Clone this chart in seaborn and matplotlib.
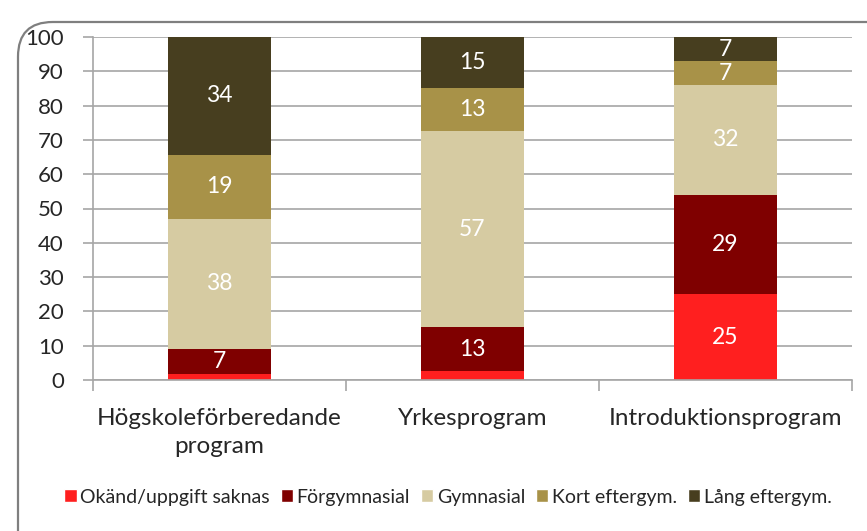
import numpy as np
import pandas as pd
import matplotlib.pyplot as plt
import seaborn as sns
from matplotlib.patches import FancyBboxPatch, Patch

# DATOS
program = ["Högskoleförberedande\nprogram", "Yrkesprogram", "Introduktionsprogram"]
nivaer = ["Okänd/uppgift saknas", "Förgymnasial", "Gymnasial", "Kort eftergym.", "Lång eftergym."]
okand = [1.7, 2.5, 25]
forgym = [7.3, 13, 29]
gymnasial = [38, 57, 32]
kort = [18.7, 12.6, 7]
lang = [34.3, 14.9, 7]
farger = ["#FF1F1F", "#7F0000", "#D6CBA2", "#A89248", "#473E1F"]

serier = [okand, forgym, gymnasial, kort, lang]

# tabla larga con sumas acumuladas (para apilar con seaborn)
filas = []
for i, p in enumerate(program):
    cum = 0
    for niv, s in zip(nivaer, serier):
        cum += s[i]
        filas.append({"program": p, "niva": niv, "varde": s[i], "kumulativ": cum})
df = pd.DataFrame(filas)

sns.set_style("white")
plt.rcParams["font.family"] = ["Lato", "DejaVu Sans"]

fig = plt.figure(figsize=(8.67, 5.31), dpi=100)
ax = fig.add_axes([93 / 867, 1 - 380 / 531, (852 - 93) / 867, (380 - 37) / 531])

paleta = dict(zip(nivaer, farger))
sns.barplot(data=df, x="program", y="kumulativ", hue="niva", hue_order=nivaer[::-1],
            palette=paleta, dodge=False, width=0.41, saturation=1, legend=False,
            linewidth=0, ax=ax, order=program)

# etiquetas dentro de las barras
for i, p in enumerate(program):
    sub = df[df["program"] == p]
    for _, r in sub.iterrows():
        if r["varde"] >= 5:
            ax.text(i, r["kumulativ"] - r["varde"] / 2, f"{r['varde']:.0f}",
                    ha="center", va="center", color="white", fontsize=16.5)

ax.set_ylim(0, 100)
ax.set_xlim(-0.5, 2.5)
ax.set_yticks(range(0, 101, 10))
ax.yaxis.grid(True, color="#A6A6A6", linewidth=1.2)
ax.set_axisbelow(True)
ax.set_xlabel("")
ax.set_ylabel("")
for s in ["top", "right"]:
    ax.spines[s].set_visible(False)
for s in ["left", "bottom"]:
    ax.spines[s].set_color("#A6A6A6")
    ax.spines[s].set_linewidth(1.2)

ax.tick_params(axis="y", length=7, width=1.2, color="#A6A6A6", labelsize=16, pad=14, left=True)
ax.tick_params(axis="x", which="major", length=0, labelsize=17.5, pad=20)
for lab in ax.get_xticklabels():
    lab.set_linespacing(1.4)
ax.set_xticks([-0.5, 0.5, 1.5, 2.5], minor=True)
ax.tick_params(axis="x", which="minor", length=8, width=1.2, color="#A6A6A6", bottom=True)

# leyenda
handles = [Patch(facecolor=c, label=n) for n, c in zip(nivaer, farger)]
fig.legend(handles=handles, loc="center", bbox_to_anchor=(448 / 867, 1 - 497 / 531), ncol=5,
           frameon=False, fontsize=14, handlelength=0.62, handleheight=0.62,
           handletextpad=0.2, columnspacing=0.55)

# marco redondeado
marco = FancyBboxPatch((18 / 867, -0.2), 1.2, 1.2 - 22 / 531,
                       boxstyle="round,pad=0,rounding_size=0.04",
                       mutation_aspect=867 / 531,
                       transform=fig.transFigure, facecolor="none",
                       edgecolor="#7F7F7F", linewidth=1.6, zorder=10, clip_on=False)
fig.add_artist(marco)

fig.savefig("out.png", dpi=100)
